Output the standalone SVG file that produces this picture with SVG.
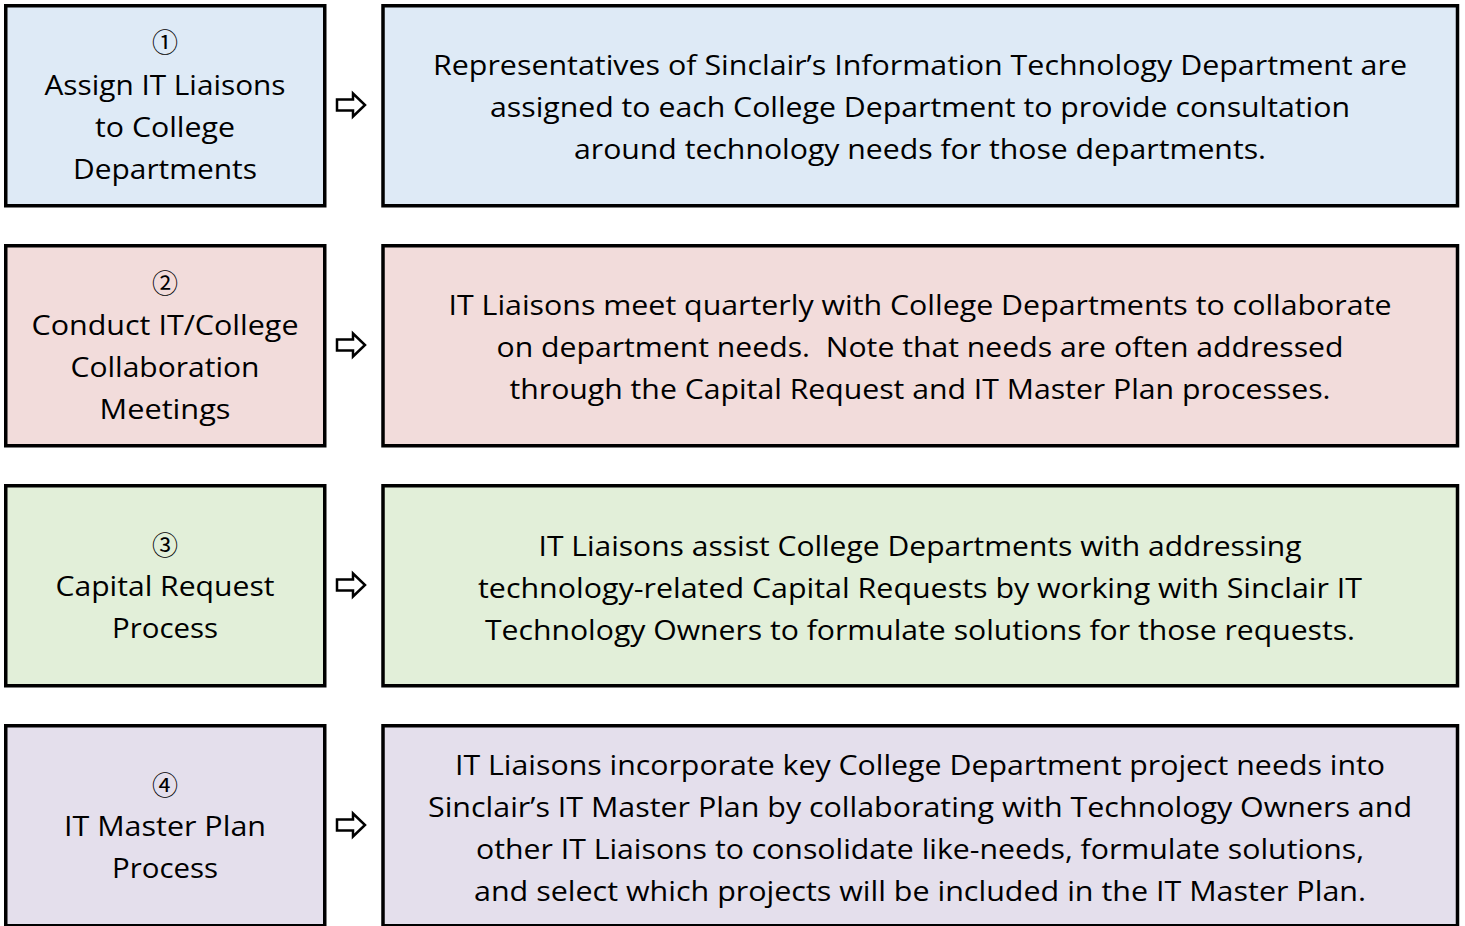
<svg xmlns="http://www.w3.org/2000/svg" width="1465" height="926" viewBox="0 0 1465 926">
<style>
.box{stroke:#000;stroke-width:3.5}
.b1{fill:#DEEAF6}.b2{fill:#F2DCDB}.b3{fill:#E2EFD9}.b4{fill:#E4DFEC}
text{font-family:"Open Sans","Liberation Sans",sans-serif;font-size:27px;fill:#000;text-anchor:middle}
.num{font-family:"Noto Sans CJK JP","DejaVu Sans",sans-serif;font-size:26px}
.arr{fill:#fff;stroke:#000;stroke-width:2.5;stroke-linejoin:miter}
</style>
<rect width="1465" height="926" fill="#fff"/>
<g id="step1">
<rect class="box b1" x="5.75" y="5.75" width="319" height="200"/>
<text class="num" x="165" y="52">①</text>
<text x="165" y="95" textLength="241" lengthAdjust="spacingAndGlyphs">Assign IT Liaisons</text>
<text x="165" y="137" textLength="140" lengthAdjust="spacingAndGlyphs">to College</text>
<text x="165" y="179" textLength="184" lengthAdjust="spacingAndGlyphs">Departments</text>
</g>
<g id="desc1">
<rect class="box b1" x="383" y="5.75" width="1074.5" height="200"/>
<text x="920" y="75" textLength="974" lengthAdjust="spacingAndGlyphs">Representatives of Sinclair’s Information Technology Department are</text>
<text x="920" y="117" textLength="860" lengthAdjust="spacingAndGlyphs">assigned to each College Department to provide consultation</text>
<text x="920" y="159" textLength="692" lengthAdjust="spacingAndGlyphs">around technology needs for those departments.</text>
</g>
<g id="step2">
<rect class="box b2" x="5.75" y="245.75" width="319" height="200"/>
<text class="num" x="165" y="293">②</text>
<text x="165" y="335" textLength="267" lengthAdjust="spacingAndGlyphs">Conduct IT/College</text>
<text x="165" y="377" textLength="189" lengthAdjust="spacingAndGlyphs">Collaboration</text>
<text x="165" y="419" textLength="131" lengthAdjust="spacingAndGlyphs">Meetings</text>
</g>
<g id="desc2">
<rect class="box b2" x="383" y="245.75" width="1074.5" height="200"/>
<text x="920" y="315" textLength="943" lengthAdjust="spacingAndGlyphs">IT Liaisons meet quarterly with College Departments to collaborate</text>
<text x="920" y="357" textLength="847" lengthAdjust="spacingAndGlyphs" xml:space="preserve">on department needs.  Note that needs are often addressed</text>
<text x="920" y="399" textLength="821" lengthAdjust="spacingAndGlyphs">through the Capital Request and IT Master Plan processes.</text>
</g>
<g id="step3">
<rect class="box b3" x="5.75" y="485.75" width="319" height="200"/>
<text class="num" x="165" y="555">③</text>
<text x="165" y="596" textLength="219" lengthAdjust="spacingAndGlyphs">Capital Request</text>
<text x="165" y="638" textLength="106" lengthAdjust="spacingAndGlyphs">Process</text>
</g>
<g id="desc3">
<rect class="box b3" x="383" y="485.75" width="1074.5" height="200"/>
<text x="920" y="556" textLength="763" lengthAdjust="spacingAndGlyphs">IT Liaisons assist College Departments with addressing</text>
<text x="920" y="598" textLength="884" lengthAdjust="spacingAndGlyphs">technology-related Capital Requests by working with Sinclair IT</text>
<text x="920" y="640" textLength="870" lengthAdjust="spacingAndGlyphs">Technology Owners to formulate solutions for those requests.</text>
</g>
<g id="step4">
<rect class="box b4" x="5.75" y="725.75" width="319" height="200"/>
<text class="num" x="165" y="795">④</text>
<text x="165" y="836" textLength="202" lengthAdjust="spacingAndGlyphs">IT Master Plan</text>
<text x="165" y="878" textLength="106" lengthAdjust="spacingAndGlyphs">Process</text>
</g>
<g id="desc4">
<rect class="box b4" x="383" y="725.75" width="1074.5" height="200"/>
<text x="920" y="775" textLength="930" lengthAdjust="spacingAndGlyphs">IT Liaisons incorporate key College Department project needs into</text>
<text x="920" y="817" textLength="984" lengthAdjust="spacingAndGlyphs">Sinclair’s IT Master Plan by collaborating with Technology Owners and</text>
<text x="920" y="859" textLength="888" lengthAdjust="spacingAndGlyphs">other IT Liaisons to consolidate like-needs, formulate solutions,</text>
<text x="920" y="901" textLength="892" lengthAdjust="spacingAndGlyphs">and select which projects will be included in the IT Master Plan.</text>
</g>
<g id="connectors">
<path class="arr" d="M337,99.5 H353 V93.5 L365,105 L353,116.5 V110.5 H337 Z"/>
<path class="arr" d="M337,339.5 H353 V333.5 L365,345 L353,356.5 V350.5 H337 Z"/>
<path class="arr" d="M337,579.5 H353 V573.5 L365,585 L353,596.5 V590.5 H337 Z"/>
<path class="arr" d="M337,819.5 H353 V813.5 L365,825 L353,836.5 V830.5 H337 Z"/>
</g>
</svg>
